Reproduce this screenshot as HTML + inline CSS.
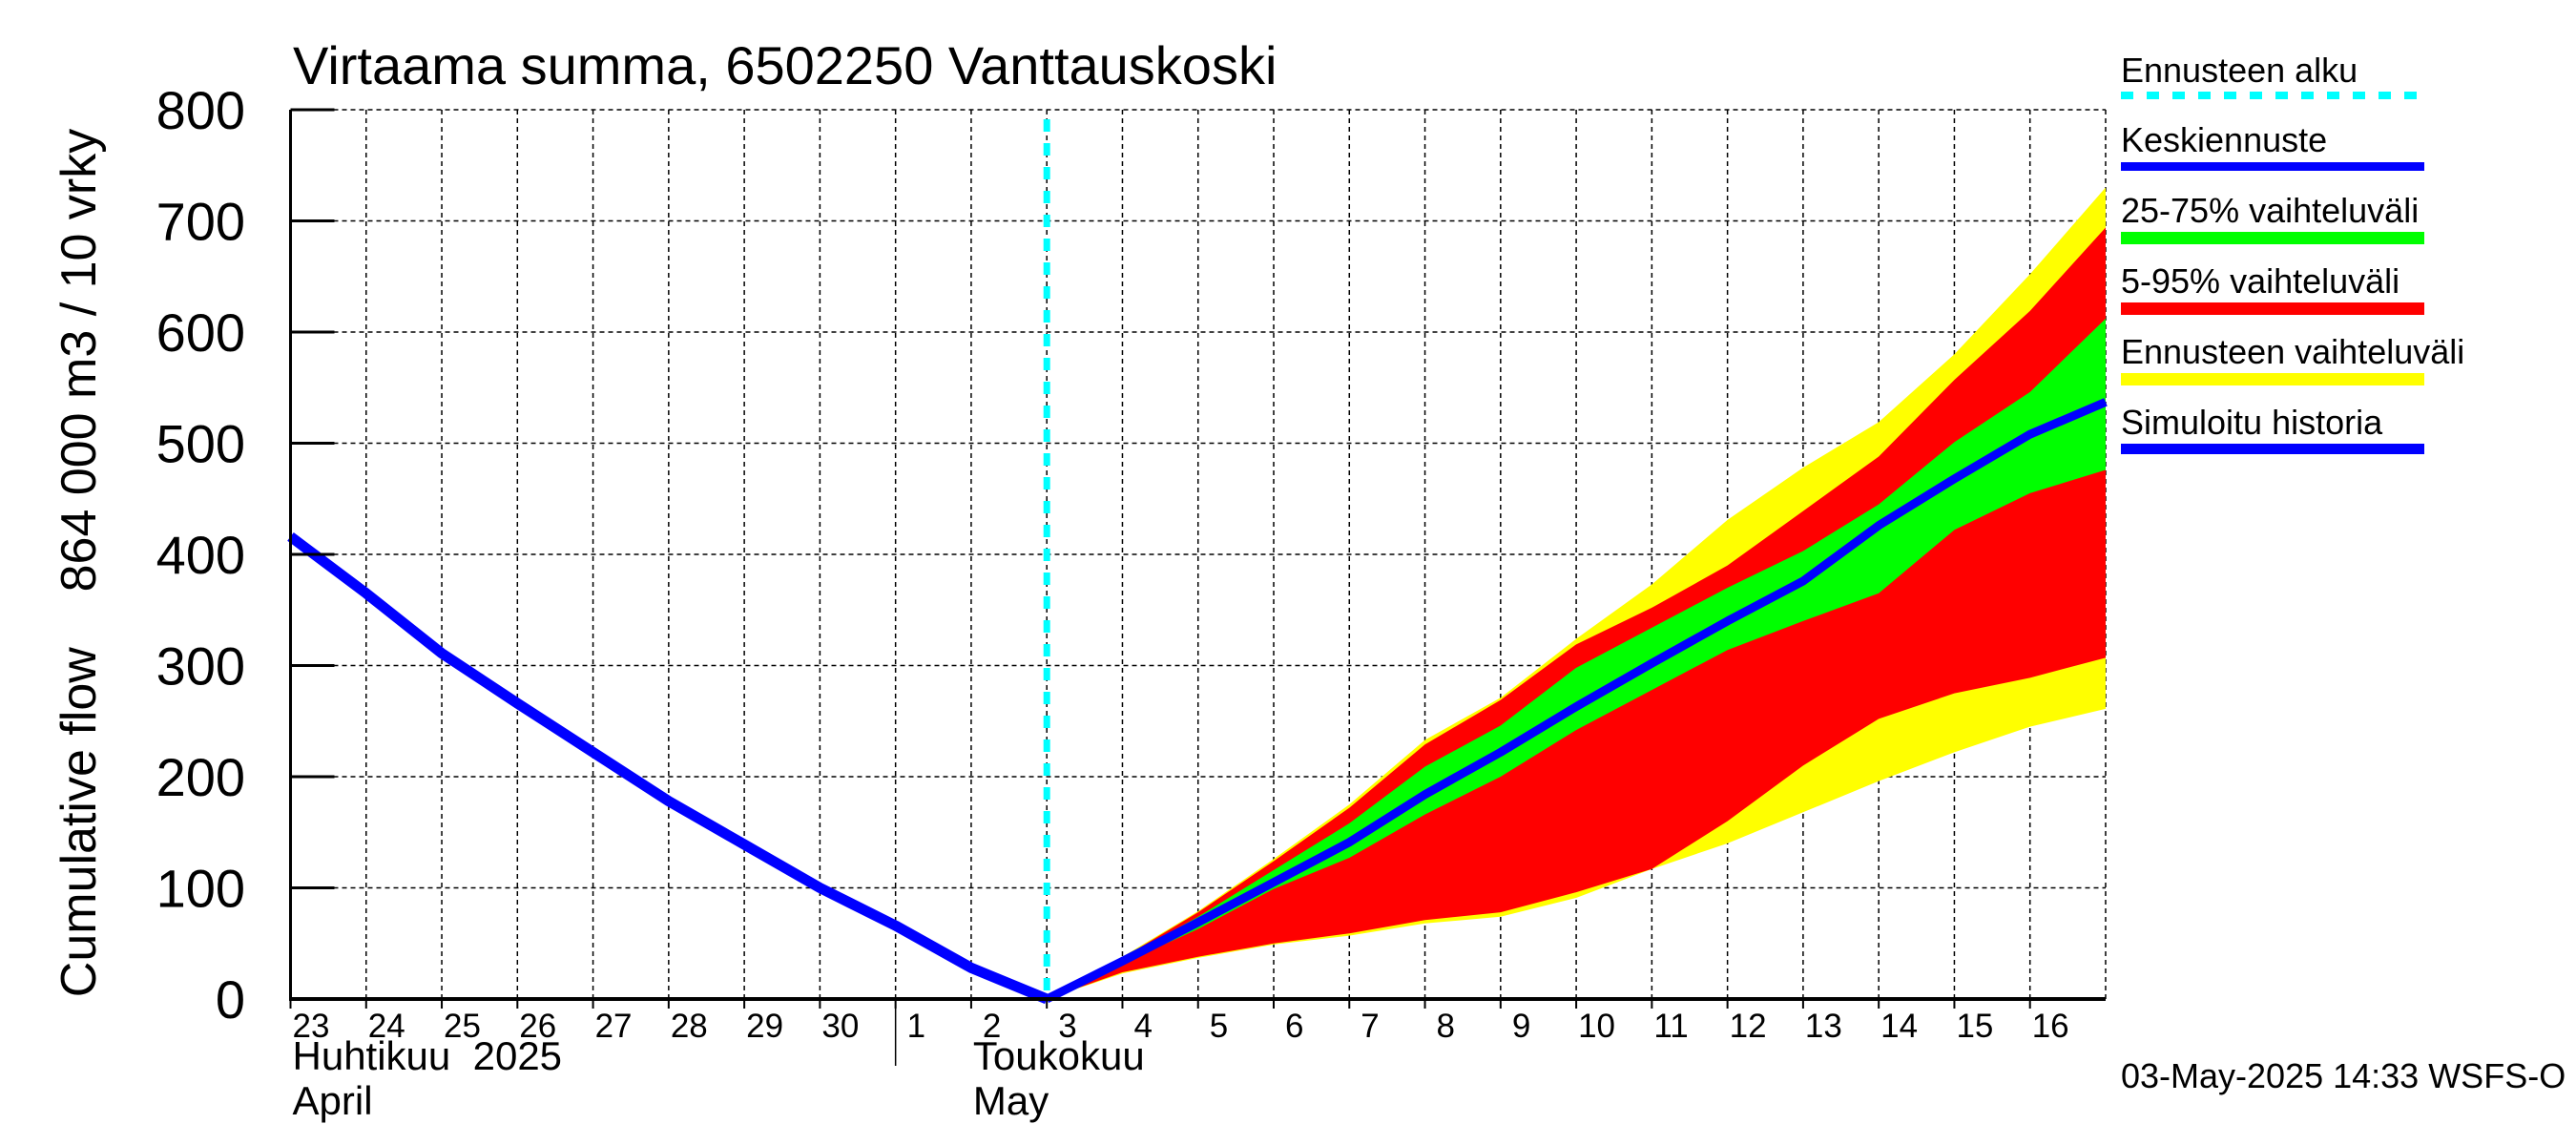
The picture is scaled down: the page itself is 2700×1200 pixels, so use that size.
<!DOCTYPE html>
<html><head><meta charset="utf-8"><style>
html,body{margin:0;padding:0;background:#fff}
svg{display:block;font-family:"Liberation Sans",sans-serif}
</style></head><body>
<svg id="c" width="2700" height="1200" viewBox="0 0 2700 1200">
<text x="307" y="88" font-size="56">Virtaama summa, 6502250 Vanttauskoski</text>
<text transform="translate(100,590) rotate(-90)" text-anchor="middle" font-size="52" xml:space="preserve" style="white-space:pre">Cumulative flow    864 000 m3 / 10 vrky</text>
<g id="grid"></g><g id="bands"></g><g id="lines"></g><g id="axes"></g>
<g font-size="36">
<text x="2223" y="86">Ennusteen alku</text>
<line x1="2223" y1="100" x2="2541" y2="100" stroke="#00ffff" stroke-width="8" stroke-dasharray="13,14"/>
<text x="2223" y="159">Keskiennuste</text>
<rect x="2223" y="170" width="318" height="9" fill="#0000ff"/>
<text x="2223" y="233">25-75% vaihteluväli</text>
<rect x="2223" y="243" width="318" height="13" fill="#00ff00"/>
<text x="2223" y="307">5-95% vaihteluväli</text>
<rect x="2223" y="317" width="318" height="13" fill="#ff0000"/>
<text x="2223" y="381">Ennusteen vaihteluväli</text>
<rect x="2223" y="391" width="318" height="13" fill="#ffff00"/>
<text x="2223" y="455">Simuloitu historia</text>
<rect x="2223" y="465" width="318" height="11" fill="#0000ff"/>
</g>
<text x="2223" y="1140" font-size="36">03-May-2025 14:33 WSFS-O</text>
</svg>
<script>
const dayLabels=["23","24","25","26","27","28","29","30","1","2","3","4","5","6","7","8","9","10","11","12","13","14","15","16"];
const yTicks=[0,100,200,300,400,500,600,700,800];
const histDays=[0,1,2,3,4,5,6,7,8,9,10];
const histValues=[416,365,311,266,222,178,139,100,66,28,0];
const fcDays=[10,11,12,13,14,15,16,17,18,19,20,21,22,23,24];
const yellowTop=[0,38,79,126,175,233,271,324,373,431,478,519,580,652,730];
const redTop=[0,37,78,124,172,229,269,319,352,390,439,488,557,619,694];
const greenTop=[0,36,74,116,158,209,246,298,334,370,403,445,501,546,612];
const meanFc=[0,34,69,105,141,184,222,263,302,340,376,426,468,508,537];
const greenBot=[0,32,63,99,127,166,200,242,278,314,340,365,422,455,476];
const redBot=[0,24,38,50,59,71,78,96,117,160,210,252,275,289,307];
const yellowBot=[0,23,37,49,57,68,74,91,117,140,168,196,222,245,261];
const X0=304.5,DX=79.27,Y0=1047,DY=1.165;
const xs=d=>X0+d*DX, ys=v=>Y0-v*DY;
const NS="http://www.w3.org/2000/svg";
function mk(tag,parent,attrs){const e=document.createElementNS(NS,tag);for(const k in attrs)e.setAttribute(k,attrs[k]);parent.appendChild(e);return e;}
const grid=document.getElementById('grid'),bands=document.getElementById('bands'),lines=document.getElementById('lines'),axes=document.getElementById('axes');
const xEnd=xs(24);
yTicks.forEach(v=>{
  if(v>0){const l=mk('line',grid,{x1:X0,x2:xEnd,y1:ys(v),y2:ys(v),stroke:'#000','stroke-width':1.5,'stroke-dasharray':'5,4'});
  
  }
  const t=mk('line',axes,{x1:X0,x2:X0+46,y1:ys(v),y2:ys(v),stroke:'#000','stroke-width':3});
  
  
  const tx=mk('text',axes,{x:257,y:ys(v)+20,'text-anchor':'end','font-size':56});
  tx.textContent=v;
  
  
});
for(let d=1;d<=24;d++){
  const l=mk('line',grid,{x1:xs(d),x2:xs(d),y1:ys(800),y2:Y0,stroke:'#000','stroke-width':1.5,'stroke-dasharray':'5,4'});
  
  
}
dayLabels.forEach((s,i)=>{
  const tk=mk('line',axes,{x1:xs(i),x2:xs(i),y1:Y0,y2:Y0+10,stroke:'#000','stroke-width':2});
  
  
  const t=mk('text',axes,{x:xs(i)+(s.length>1?2:12),y:Y0+40,'font-size':35});
  t.textContent=s;
  
  
});
function band(top,bot,fill,name){
  let p=fcDays.map((d,i)=>xs(d)+','+ys(top[i]));
  for(let i=fcDays.length-1;i>=0;i--)p.push(xs(fcDays[i])+','+ys(bot[i]));
  const e=mk('polygon',bands,{points:p.join(' '),fill:fill});
  
  
}
band(yellowTop,yellowBot,'#ffff00','band-forecast-range');
band(redTop,redBot,'#ff0000','band-5-95');
band(greenTop,greenBot,'#00ff00','band-25-75');
const fl=mk('polyline',lines,{points:fcDays.map((d,i)=>xs(d)+','+ys(meanFc[i])).join(' '),fill:'none',stroke:'#0000ff','stroke-width':9,'stroke-linejoin':'round'});


const hl=mk('polyline',lines,{points:histDays.map((d,i)=>xs(d)+','+ys(histValues[i])).join(' '),fill:'none',stroke:'#0000ff','stroke-width':11,'stroke-linejoin':'round'});


const fs=mk('line',lines,{x1:xs(10),x2:xs(10),y1:ys(800)+10,y2:Y0,stroke:'#00ffff','stroke-width':7,'stroke-dasharray':'13,12'});


const la=mk('line',axes,{x1:X0,x2:X0,y1:ys(800),y2:Y0+2,stroke:'#000','stroke-width':3});


const ba=mk('line',axes,{x1:X0,x2:xEnd,y1:Y0,y2:Y0,stroke:'#000','stroke-width':4});


const ms=mk('line',axes,{x1:xs(8),x2:xs(8),y1:Y0,y2:1117,stroke:'#000','stroke-width':1.5});


[["Huhtikuu  2025",xs(0)+2,1121,'month-label-april-fi'],["April",xs(0)+2,1168,'month-label-april-en'],["Toukokuu",xs(9)+2,1121,'month-label-may-fi'],["May",xs(9)+2,1168,'month-label-may-en']].forEach(a=>{
  const t=mk('text',axes,{x:a[1],y:a[2],'font-size':42});
  t.textContent=a[0];
  t.setAttribute('xml:space','preserve');
  t.style.whiteSpace='pre';
  
  
});
</script>
</body></html>
